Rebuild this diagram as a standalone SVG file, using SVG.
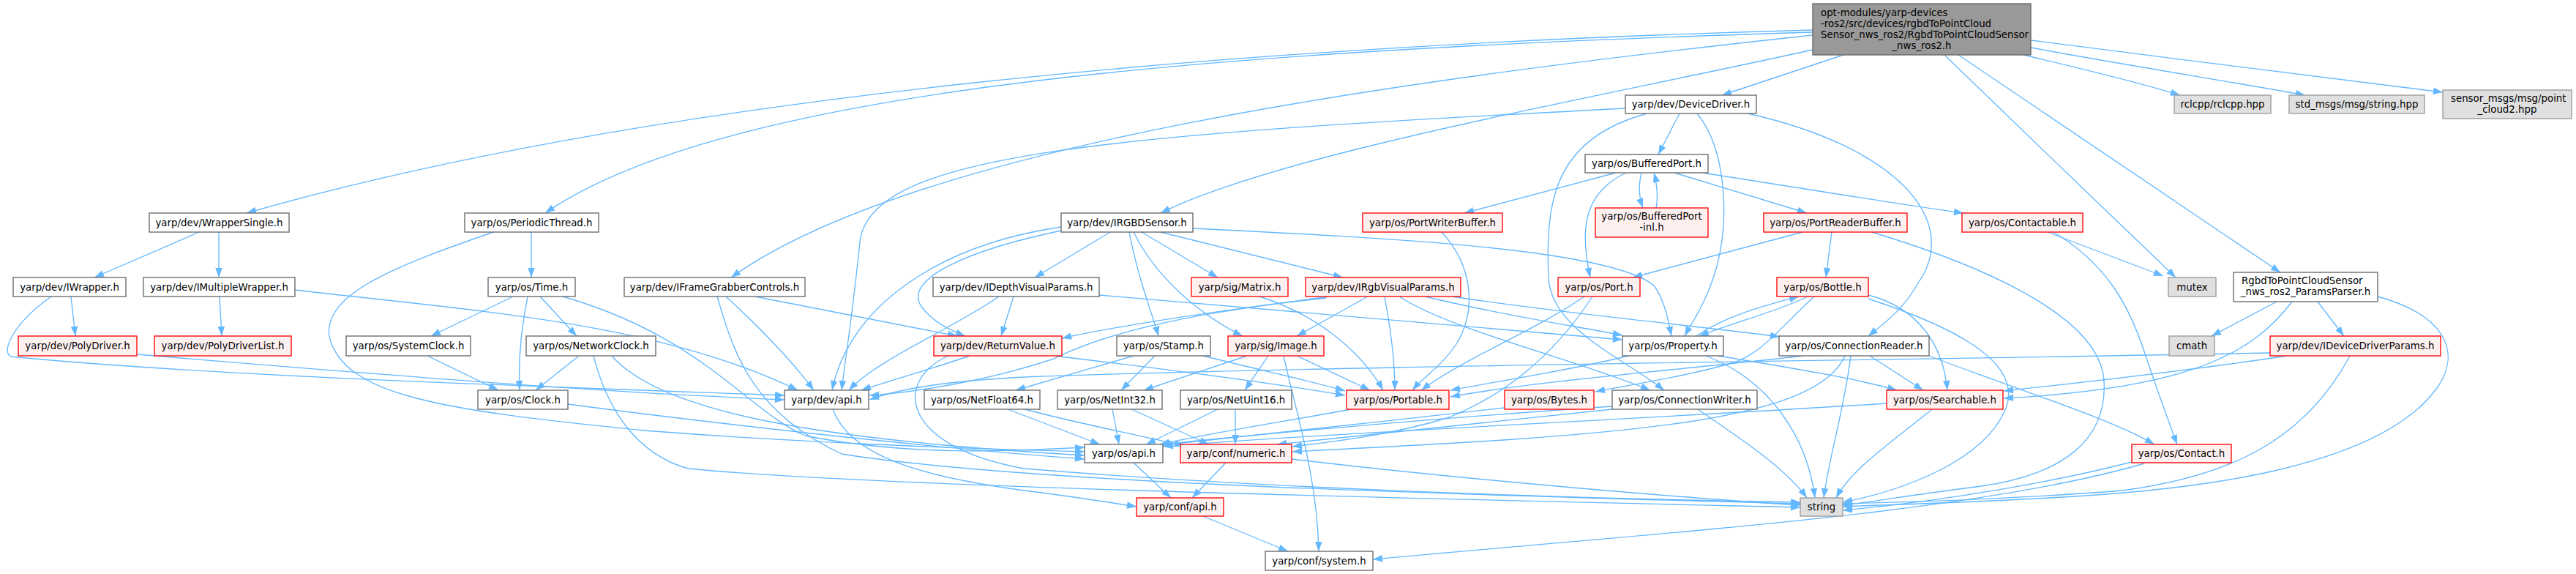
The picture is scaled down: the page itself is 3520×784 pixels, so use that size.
<svg xmlns="http://www.w3.org/2000/svg" width="3520" height="784" viewBox="0 0 3520 784">
<style>
.node rect{stroke-width:1.33}
.w rect{fill:#ffffff;stroke:#666666}
.r rect{fill:#fff0f0;stroke:#ff0000}
.g rect{fill:#e0e0e0;stroke:#999999}
.top rect{fill:#999999;stroke:#666666}
text{font-family:"DejaVu Sans","Liberation Sans",sans-serif;font-size:13.33px;fill:#000000}
.c{text-anchor:middle}
.s{text-anchor:start}
#edges path{fill:none;stroke:#63b8ff;stroke-width:1.33;marker-end:url(#a)}
</style>
<defs>
<marker id="a" markerUnits="userSpaceOnUse" markerWidth="14" markerHeight="10" refX="13" refY="4.75" orient="auto" overflow="visible">
<path d="M0,0 L13,4.75 L0,9.5 Z" fill="#63b8ff"/>
</marker>
</defs>
<rect width="3520" height="784" fill="#ffffff"/>
<g id="edges">
<path d="M2477,41 C1700,62 900,130 337,291"/>
<path d="M2477,44 C1700,68 1000,115 745,291"/>
<path d="M2477,48 C1900,110 1250,200 999,379"/>
<path d="M2477,68 C2150,140 1750,210 1586,291"/>
<path d="M2519,75 L2353,130"/>
<path d="M2657,75 C2760,175 2870,280 2973,379"/>
<path d="M2676,75 C2830,180 2980,280 3116,372"/>
<path d="M2765,75 C2850,95 2930,115 2979,130"/>
<path d="M2775,65 C2900,88 3050,112 3150,130"/>
<path d="M2775,55 C2950,78 3200,108 3338,126"/>
<path d="M2221,148 C1500,185 1190,210 1175,330 C1165,430 1155,490 1150,533"/>
<path d="M2295,155 L2266,211"/>
<path d="M2251,155 C2120,190 2112,280 2116,380 C2120,450 2220,490 2274,533"/>
<path d="M2319,155 C2360,205 2362,300 2347,360 C2334,410 2312,440 2302,459"/>
<path d="M2388,155 C2590,200 2680,300 2622,385 C2600,425 2570,445 2553,459"/>
<path d="M272,317 L129,379"/>
<path d="M299,317 L299,379"/>
<path d="M97,405 L103,459"/>
<path d="M70,405 C20,440 0,480 15,487 C300,515 800,530 1072,540"/>
<path d="M300,405 L303,459"/>
<path d="M403,396 C650,425 900,440 1090,533"/>
<path d="M187,484 C500,510 800,535 1072,546"/>
<path d="M726,317 L726,379"/>
<path d="M674,317 C550,360 440,400 450,460 C470,540 600,560 880,588 C1100,605 1300,612 1482,617"/>
<path d="M701,405 L589,459"/>
<path d="M721,405 C712,450 708,490 710,533"/>
<path d="M738,405 L788,459"/>
<path d="M769,405 C960,460 1020,560 1100,595 C1250,625 1400,615 1482,611"/>
<path d="M584,486 L681,533"/>
<path d="M791,486 L732,533"/>
<path d="M811,486 C830,560 870,620 940,640 C1200,665 1900,680 2460,693"/>
<path d="M836,486 C900,560 1100,600 1482,622"/>
<path d="M776,552 C950,575 1250,610 1482,627"/>
<path d="M1032,405 L1308,459"/>
<path d="M992,405 C1030,440 1080,490 1112,533"/>
<path d="M980,405 C1000,470 1020,560 1150,620 C1400,660 2000,676 2460,688"/>
<path d="M1450,310 C1280,335 1160,420 1137,533"/>
<path d="M1450,315 C1330,340 1230,380 1260,420 C1275,440 1300,452 1319,459"/>
<path d="M1517,317 L1414,379"/>
<path d="M1543,317 C1555,380 1575,430 1583,459"/>
<path d="M1549,317 C1580,380 1640,430 1698,459"/>
<path d="M1560,317 L1664,379"/>
<path d="M1586,317 L1835,379"/>
<path d="M1630,312 C1900,325 2200,340 2260,390 C2275,410 2280,440 2284,459"/>
<path d="M1365,405 C1300,450 1200,490 1160,533"/>
<path d="M1385,405 L1368,459"/>
<path d="M1502,403 C1800,430 2050,450 2217,464"/>
<path d="M1721,405 C1800,430 1860,480 1890,533"/>
<path d="M1817,405 C1700,420 1550,440 1451,462"/>
<path d="M1812,407 C1600,430 1500,460 1440,490 C1350,520 1250,536 1188,540"/>
<path d="M1869,405 L1772,459"/>
<path d="M1892,405 C1900,450 1906,490 1906,533"/>
<path d="M1912,405 C1980,450 2150,490 2255,533"/>
<path d="M1947,405 C2050,430 2150,445 2217,458"/>
<path d="M1984,405 C2150,430 2320,445 2432,460"/>
<path d="M1970,317 C2010,360 2020,420 1990,470 C1970,500 1945,515 1930,533"/>
<path d="M2208,236 L2001,291"/>
<path d="M2243,236 C2238,255 2240,270 2245,284"/>
<path d="M2263,284 C2266,270 2264,250 2260,236"/>
<path d="M2222,236 C2160,265 2160,320 2173,379"/>
<path d="M2288,236 L2469,291"/>
<path d="M2326,236 C2450,255 2600,280 2683,291"/>
<path d="M2463,317 L2231,379"/>
<path d="M2503,317 L2495,379"/>
<path d="M2558,317 C2700,360 2870,430 2875,520 C2880,600 2820,650 2700,665 C2620,675 2560,685 2518,690"/>
<path d="M2795,316 L2956,377"/>
<path d="M2804,316 C2880,360 2910,420 2930,480 C2950,540 2965,580 2975,607"/>
<path d="M2165,405 C2100,450 2000,490 1942,533"/>
<path d="M2176,405 C2140,460 2080,530 1980,570 C1900,595 1820,603 1766,610"/>
<path d="M2318,459 C2360,430 2420,415 2458,405"/>
<path d="M2470,405 C2430,425 2370,440 2322,459"/>
<path d="M2553,403 C2620,420 2655,470 2661,533"/>
<path d="M2553,408 C2650,440 2770,490 2740,560 C2710,630 2600,670 2518,686"/>
<path d="M2479,405 C2430,450 2410,480 2370,495 C2300,515 2230,525 2180,535"/>
<path d="M2225,486 C2150,505 2050,520 1982,533"/>
<path d="M2348,486 C2430,500 2530,515 2592,533"/>
<path d="M2331,486 C2420,520 2470,600 2480,680"/>
<path d="M2555,486 L2628,533"/>
<path d="M2529,486 C2520,560 2500,620 2492,680"/>
<path d="M2521,486 C2480,580 2200,595 1766,617"/>
<path d="M2636,486 C2750,530 2880,570 2944,607"/>
<path d="M2464,486 C2300,505 2100,520 1982,542"/>
<path d="M2320,559 C2380,600 2440,640 2469,680"/>
<path d="M2203,555 C1950,572 1700,595 1586,607"/>
<path d="M2203,559 C2000,580 1850,595 1745,607"/>
<path d="M2056,557 C1900,575 1700,595 1588,608"/>
<path d="M1846,559 C1760,575 1650,592 1585,607"/>
<path d="M2578,551 C2200,575 1800,592 1590,610"/>
<path d="M2640,559 C2590,600 2530,640 2509,680"/>
<path d="M2913,631 C2800,660 2650,685 2518,697"/>
<path d="M2930,633 C2700,700 2300,725 1876,764"/>
<path d="M3111,412 L3022,459"/>
<path d="M3167,412 L3203,459"/>
<path d="M3132,412 C3080,480 3000,530 2738,544"/>
<path d="M3249,405 C3340,430 3365,480 3330,530 C3250,640 3000,670 2800,680 C2650,688 2560,690 2518,692"/>
<path d="M3125,486 C3000,505 2850,522 2738,534"/>
<path d="M3102,482 C2600,492 1800,500 1400,515 C1300,520 1230,530 1188,546"/>
<path d="M3211,486 C3150,600 3050,650 2900,670 C2750,682 2600,686 2518,688"/>
<path d="M1325,486 C1270,505 1215,520 1177,533"/>
<path d="M1296,486 C1220,520 1230,610 1400,640 C1700,665 2100,680 2460,686"/>
<path d="M1440,486 C1600,505 1750,525 1838,540"/>
<path d="M1549,486 L1388,533"/>
<path d="M1578,486 L1532,533"/>
<path d="M1644,486 C1720,505 1790,520 1838,534"/>
<path d="M1772,486 L1872,533"/>
<path d="M1754,486 C1770,560 1800,650 1802,753"/>
<path d="M1704,486 L1563,533"/>
<path d="M1733,486 L1701,533"/>
<path d="M1377,559 L1503,607"/>
<path d="M1400,559 C1480,580 1560,595 1618,609"/>
<path d="M1520,559 L1529,607"/>
<path d="M1546,559 L1652,607"/>
<path d="M1664,559 L1566,607"/>
<path d="M1688,559 L1688,607"/>
<path d="M1549,632 L1600,680"/>
<path d="M1675,632 L1629,680"/>
<path d="M1765,627 C2000,655 2300,680 2460,690"/>
<path d="M1138,559 C1160,620 1250,650 1400,670 C1480,680 1520,687 1553,692"/>
<path d="M1644,705 L1760,753"/>
</g>
<g id="n_main" class="node top"><rect x="2477" y="5" width="298" height="70"/>
<text class="s" x="2488" y="22">opt-modules/yarp-devices</text>
<text class="s" x="2488" y="37">-ros2/src/devices/rgbdToPointCloud</text>
<text class="s" x="2488" y="52">Sensor_nws_ros2/RgbdToPointCloudSensor</text>
<text class="c" x="2626" y="67">_nws_ros2.h</text></g>
<g id="n_devicedriver" class="node w"><rect x="2221" y="130" width="179" height="25"/><text class="c" x="2310.5" y="147.2">yarp/dev/DeviceDriver.h</text></g>
<g id="n_rclcpp" class="node g"><rect x="2971" y="130" width="132" height="25"/><text class="c" x="3037" y="147.2">rclcpp/rclcpp.hpp</text></g>
<g id="n_stdmsgs" class="node g"><rect x="3128" y="130" width="185" height="25"/><text class="c" x="3220.5" y="147.2">std_msgs/msg/string.hpp</text></g>
<g id="n_sensormsgs" class="node g"><rect x="3338" y="123" width="176" height="39"/><text class="s" x="3349" y="139">sensor_msgs/msg/point</text><text class="c" x="3426" y="154">_cloud2.hpp</text></g>
<g id="n_bufferedport" class="node w"><rect x="2166" y="211" width="168" height="25"/><text class="c" x="2250" y="228.2">yarp/os/BufferedPort.h</text></g>
<g id="n_wrappersingle" class="node w"><rect x="204" y="291" width="191" height="26"/><text class="c" x="299.5" y="308.7">yarp/dev/WrapperSingle.h</text></g>
<g id="n_periodicthread" class="node w"><rect x="635" y="291" width="183" height="26"/><text class="c" x="726.5" y="308.7">yarp/os/PeriodicThread.h</text></g>
<g id="n_irgbdsensor" class="node w"><rect x="1450" y="291" width="180" height="26"/><text class="c" x="1540" y="308.7">yarp/dev/IRGBDSensor.h</text></g>
<g id="n_portwriterbuffer" class="node r"><rect x="1862" y="291" width="191" height="26"/><text class="c" x="1957.5" y="308.7">yarp/os/PortWriterBuffer.h</text></g>
<g id="n_bufferedportinl" class="node r"><rect x="2180" y="284" width="154" height="40"/><text class="c" x="2257" y="300">yarp/os/BufferedPort</text><text class="c" x="2257" y="315">-inl.h</text></g>
<g id="n_portreaderbuffer" class="node r"><rect x="2410" y="291" width="196" height="26"/><text class="c" x="2508" y="308.7">yarp/os/PortReaderBuffer.h</text></g>
<g id="n_contactable" class="node r"><rect x="2681" y="291" width="165" height="26"/><text class="c" x="2763.5" y="308.7">yarp/os/Contactable.h</text></g>
<g id="n_mutex" class="node g"><rect x="2963" y="379" width="65" height="26"/><text class="c" x="2995.5" y="396.7">mutex</text></g>
<g id="n_paramsparser" class="node w"><rect x="3052" y="372" width="197" height="40"/><text class="s" x="3063" y="388">RgbdToPointCloudSensor</text><text class="c" x="3150.5" y="403">_nws_ros2_ParamsParser.h</text></g>
<g id="n_iwrapper" class="node w"><rect x="18" y="379" width="154" height="26"/><text class="c" x="95" y="396.7">yarp/dev/IWrapper.h</text></g>
<g id="n_imultiplewrapper" class="node w"><rect x="196" y="379" width="207" height="26"/><text class="c" x="299.5" y="396.7">yarp/dev/IMultipleWrapper.h</text></g>
<g id="n_time" class="node w"><rect x="667" y="379" width="119" height="26"/><text class="c" x="726.5" y="396.7">yarp/os/Time.h</text></g>
<g id="n_iframegrabbercontrols" class="node w"><rect x="853" y="379" width="247" height="26"/><text class="c" x="976.5" y="396.7">yarp/dev/IFrameGrabberControls.h</text></g>
<g id="n_idepthvisualparams" class="node w"><rect x="1275" y="379" width="227" height="26"/><text class="c" x="1388.5" y="396.7">yarp/dev/IDepthVisualParams.h</text></g>
<g id="n_matrix" class="node r"><rect x="1628" y="379" width="132" height="26"/><text class="c" x="1694" y="396.7">yarp/sig/Matrix.h</text></g>
<g id="n_irgbvisualparams" class="node r"><rect x="1784" y="379" width="212" height="26"/><text class="c" x="1890" y="396.7">yarp/dev/IRgbVisualParams.h</text></g>
<g id="n_port" class="node r"><rect x="2129" y="379" width="112" height="26"/><text class="c" x="2185" y="396.7">yarp/os/Port.h</text></g>
<g id="n_bottle" class="node r"><rect x="2428" y="379" width="125" height="26"/><text class="c" x="2490.5" y="396.7">yarp/os/Bottle.h</text></g>
<g id="n_polydriver" class="node r"><rect x="25" y="459" width="162" height="27"/><text class="c" x="106" y="477.2">yarp/dev/PolyDriver.h</text></g>
<g id="n_polydriverlist" class="node r"><rect x="211" y="459" width="187" height="27"/><text class="c" x="304.5" y="477.2">yarp/dev/PolyDriverList.h</text></g>
<g id="n_systemclock" class="node w"><rect x="473" y="459" width="170" height="27"/><text class="c" x="558" y="477.2">yarp/os/SystemClock.h</text></g>
<g id="n_networkclock" class="node w"><rect x="719" y="459" width="177" height="27"/><text class="c" x="807.5" y="477.2">yarp/os/NetworkClock.h</text></g>
<g id="n_returnvalue" class="node r"><rect x="1276" y="459" width="175" height="27"/><text class="c" x="1363.5" y="477.2">yarp/dev/ReturnValue.h</text></g>
<g id="n_stamp" class="node w"><rect x="1526" y="459" width="128" height="27"/><text class="c" x="1590" y="477.2">yarp/os/Stamp.h</text></g>
<g id="n_image" class="node r"><rect x="1678" y="459" width="131" height="27"/><text class="c" x="1743.5" y="477.2">yarp/sig/Image.h</text></g>
<g id="n_property" class="node w"><rect x="2217" y="459" width="138" height="27"/><text class="c" x="2286" y="477.2">yarp/os/Property.h</text></g>
<g id="n_connectionreader" class="node w"><rect x="2431" y="459" width="205" height="27"/><text class="c" x="2533.5" y="477.2">yarp/os/ConnectionReader.h</text></g>
<g id="n_cmath" class="node g"><rect x="2964" y="459" width="62" height="27"/><text class="c" x="2995" y="477.2">cmath</text></g>
<g id="n_ideviceparams" class="node r"><rect x="3102" y="459" width="233" height="27"/><text class="c" x="3218.5" y="477.2">yarp/dev/IDeviceDriverParams.h</text></g>
<g id="n_clock" class="node w"><rect x="653" y="533" width="123" height="26"/><text class="c" x="714.5" y="550.7">yarp/os/Clock.h</text></g>
<g id="n_devapi" class="node w"><rect x="1072" y="533" width="115" height="26"/><text class="c" x="1129.5" y="550.7">yarp/dev/api.h</text></g>
<g id="n_netfloat64" class="node w"><rect x="1263" y="533" width="158" height="26"/><text class="c" x="1342" y="550.7">yarp/os/NetFloat64.h</text></g>
<g id="n_netint32" class="node w"><rect x="1445" y="533" width="143" height="26"/><text class="c" x="1516.5" y="550.7">yarp/os/NetInt32.h</text></g>
<g id="n_netuint16" class="node w"><rect x="1613" y="533" width="152" height="26"/><text class="c" x="1689" y="550.7">yarp/os/NetUint16.h</text></g>
<g id="n_portable" class="node r"><rect x="1840" y="533" width="140" height="26"/><text class="c" x="1910" y="550.7">yarp/os/Portable.h</text></g>
<g id="n_bytes" class="node r"><rect x="2056" y="533" width="122" height="26"/><text class="c" x="2117" y="550.7">yarp/os/Bytes.h</text></g>
<g id="n_connectionwriter" class="node w"><rect x="2203" y="533" width="198" height="26"/><text class="c" x="2302" y="550.7">yarp/os/ConnectionWriter.h</text></g>
<g id="n_searchable" class="node r"><rect x="2578" y="533" width="159" height="26"/><text class="c" x="2657.5" y="550.7">yarp/os/Searchable.h</text></g>
<g id="n_osapi" class="node w"><rect x="1482" y="607" width="107" height="25"/><text class="c" x="1535.5" y="624.2">yarp/os/api.h</text></g>
<g id="n_numeric" class="node r"><rect x="1613" y="607" width="152" height="25"/><text class="c" x="1689" y="624.2">yarp/conf/numeric.h</text></g>
<g id="n_contact" class="node r"><rect x="2913" y="607" width="136" height="25"/><text class="c" x="2981" y="624.2">yarp/os/Contact.h</text></g>
<g id="n_confapi" class="node r"><rect x="1553" y="680" width="119" height="25"/><text class="c" x="1612.5" y="697.2">yarp/conf/api.h</text></g>
<g id="n_string" class="node g"><rect x="2460" y="680" width="58" height="25"/><text class="c" x="2489" y="697.2">string</text></g>
<g id="n_system" class="node w"><rect x="1729" y="753" width="147" height="26"/><text class="c" x="1802.5" y="770.7">yarp/conf/system.h</text></g>
</svg>
